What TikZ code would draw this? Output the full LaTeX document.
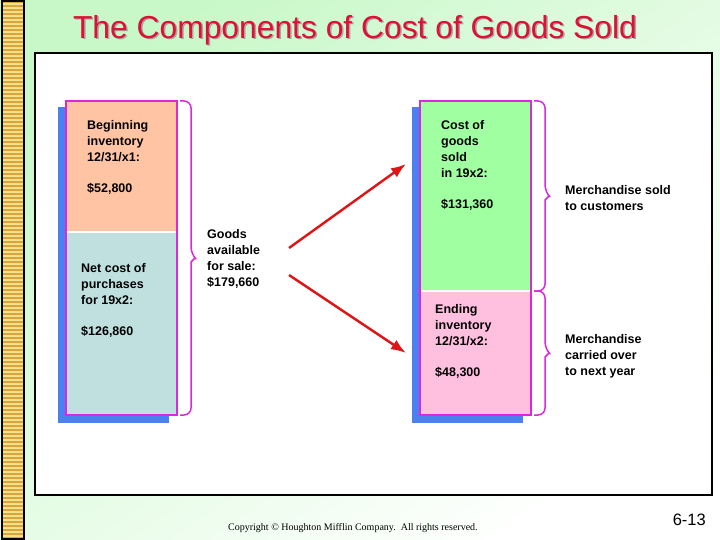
\documentclass[tikz,border=0pt]{standalone}
\usepackage{fontspec}
\setmainfont{Liberation Sans}
\newfontfamily\copyfont{Liberation Serif}
\usetikzlibrary{positioning,arrows.meta,calc}
\definecolor{mint}{RGB}{200,248,200}
\definecolor{stripeyellow}{RGB}{246,226,140}
\definecolor{stripeorange}{RGB}{222,164,60}
\definecolor{shadowblue}{RGB}{74,128,240}
\definecolor{edgemagenta}{RGB}{220,40,220}
\definecolor{salmonfill}{RGB}{255,196,164}
\definecolor{tealfill}{RGB}{192,224,224}
\definecolor{greenfill}{RGB}{160,255,160}
\definecolor{pinkfill}{RGB}{255,192,224}
\definecolor{arrowred}{RGB}{224,20,20}
\definecolor{titlered}{RGB}{221,17,51}

\begin{document}
\begin{tikzpicture}[
        x=1pt, y=-1pt,
        section/.style={draw=none, minimum width=111, inner sep=0pt, outer sep=0pt},
        shadowbox/.style={fill=shadowblue, minimum width=111, minimum height=316, inner sep=0pt, anchor=north west},
        column/.style={draw=edgemagenta, line width=1.6pt},
        divider/.style={draw=white, line width=1.2pt},
        label/.style={anchor=north west, align=left, inner sep=0pt, font=\fontsize{12.5}{15.75}\selectfont\bfseries},
        bracket/.style={draw=edgemagenta, line width=1.5pt, line join=round},
        connection/.style={-{Latex[length=15pt, width=11pt]}, draw=arrowred, line width=2.4pt}
    ]
    \useasboundingbox (0,0) rectangle (720,540);

    % Background and side stripe
    \shade[top color=mint, bottom color=white, shading angle=35] (0,0) rectangle (720,540);
    \fill[stripeyellow] (2,1) rectangle (24,539);
    \foreach \s in {1,5,...,537} {
        \fill[stripeorange] (2,\s) rectangle (24,\s+2);
    }
    \draw[black, line width=1.6pt] (2,1) rectangle (24,539);

    % Title
    \node[text=black!35, font=\fontsize{31.8}{36}\selectfont] (titleShadow) at (356.5,31.5) {The Components of Cost of Goods Sold};
    \node[text=titlered, font=\fontsize{31.8}{36}\selectfont] (title) at (355,30) {The Components of Cost of Goods Sold};

    % Frame
    \draw[black, fill=white, line width=2pt] (35,53) rectangle (712,495);

    % Left column
    \node[shadowbox] (leftShadow) at (58,107) {};
    \node[section, fill=salmonfill, minimum height=131, anchor=north west] (begInv) at (66,101) {};
    \node[section, fill=tealfill, minimum height=183, below=0pt of begInv] (purch) {};
    \draw[divider] (begInv.south west) -- (begInv.south east);
    \draw[column] (begInv.north west) rectangle (purch.south east);

    % Right column
    \node[shadowbox] (rightShadow) at (412,107) {};
    \node[section, fill=greenfill, minimum height=190, anchor=north west] (cogs) at (420,101) {};
    \node[section, fill=pinkfill, minimum height=124, below=0pt of cogs] (endInv) {};
    \draw[divider] (cogs.south west) -- (cogs.south east);
    \draw[column] (cogs.north west) rectangle (endInv.south east);

    % Braces
    \foreach \upper/\lower [count=\b] in {begInv/purch, cogs/cogs, endInv/endInv} {
        \coordinate (brace\b) at ($(\upper.north east)!0.5!(\lower.south east)$);
        \draw[bracket, rounded corners=7pt] ([xshift=3pt]\upper.north east) -- ([xshift=14pt]\upper.north east)
            -- ([xshift=14pt, yshift=4pt]brace\b) [sharp corners] -- ([xshift=18pt]brace\b)
            -- ([xshift=14pt, yshift=-4pt]brace\b) [rounded corners=7pt] -- ([xshift=14pt]\lower.south east)
            -- ([xshift=3pt]\lower.south east);
    }

    % Labels
    \node[label] (begInvText) at (87,120.5) {Beginning\\inventory\\12/31/x1:\\[15.75pt]\$52,800};
    \node[label] (purchText) at (81,263.5) {Net cost of\\purchases\\for 19x2:\\[15.75pt]\$126,860};
    \node[label] (goodsText) at (207,229.5) {Goods\\available\\for sale:\\\$179,660};
    \node[label] (cogsText) at (441,120.5) {Cost of\\goods\\sold\\in 19x2:\\[15.75pt]\$131,360};
    \node[label] (endInvText) at (435,304.5) {Ending\\inventory\\12/31/x2:\\[15.75pt]\$48,300};
    \node[label] (soldText) at (565,185.5) {Merchandise sold\\to customers};
    \node[label] (carriedText) at (565,334.5) {Merchandise\\carried over\\to next year};

    % Arrows
    \coordinate (forkTop) at (289,248);
    \coordinate (forkBottom) at (289,275);
    \coordinate (cogsTip) at (406,164);
    \coordinate (endTip) at (406,353);
    \draw[connection] (forkTop) -- (cogsTip);
    \draw[connection] (forkBottom) -- (endTip);

    % Footer
    \node[anchor=west, inner sep=0pt, font=\copyfont\fontsize{10}{11}\selectfont] (copyright) at (228,528) {Copyright \textcopyright\ Houghton Mifflin Company.\ \ All rights reserved.};
    \node[anchor=east, inner sep=0pt, font=\fontsize{16.5}{18}\selectfont] (pageNum) at (706,520) {6-13};

\end{tikzpicture}
\end{document}
